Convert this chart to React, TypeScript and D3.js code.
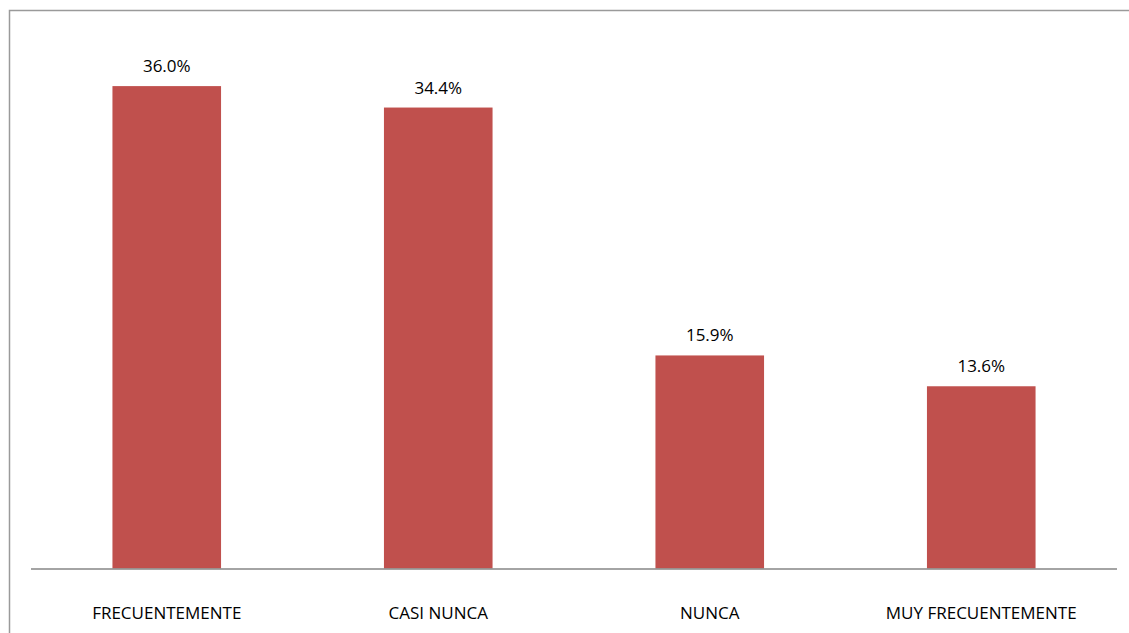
import { useEffect } from 'react';
import * as d3 from 'd3';

const categories = ['FRECUENTEMENTE', 'CASI NUNCA', 'NUNCA', 'MUY FRECUENTEMENTE'];
const values = [36.0, 34.4, 15.9, 13.6];

export default function App() {
  const width = 1129;
  const height = 633;
  const margin = { left: 31, right: 12, top: 32.5, bottom: 64.5 };

  useEffect(() => {
    document.body.style.margin = '0';
  }, []);

  const x = d3
    .scaleBand<string>()
    .domain(categories)
    .range([margin.left, width - margin.right])
    .paddingInner(0.6)
    .paddingOuter(0.3);

  const y = d3
    .scaleLinear()
    .domain([0, 40])
    .range([height - margin.bottom, margin.top]);

  const font = "'Open Sans', sans-serif";

  return (
    <svg width={width} height={height} style={{ display: 'block' }}>
      <rect x={0} y={0} width={width} height={height} fill="#fff" />
      <rect x={9.5} y={10.5} width={1130} height={640} fill="none" stroke="#9a9a9a" strokeWidth={1.5} />
      {values.map((v, i) => (
        <g key={categories[i]}>
          <rect
            x={x(categories[i])}
            y={y(v)}
            width={x.bandwidth()}
            height={y(0) - y(v)}
            fill="#c0504d"
          />
          <text
            x={(x(categories[i]) as number) + x.bandwidth() / 2}
            y={y(v) - 14}
            textAnchor="middle"
            fontFamily={font}
            fontSize={17}
            fill="#000"
          >
            {v.toFixed(1) + '%'}
          </text>
          <text
            x={(x(categories[i]) as number) + x.bandwidth() / 2}
            y={619}
            textAnchor="middle"
            fontFamily={font}
            fontSize={17}
            fill="#000"
          >
            {categories[i]}
          </text>
        </g>
      ))}
      <line
        x1={margin.left}
        x2={width - margin.right}
        y1={y(0) + 0.5}
        y2={y(0) + 0.5}
        stroke="#868686"
        strokeWidth={1.5}
      />
    </svg>
  );
}
